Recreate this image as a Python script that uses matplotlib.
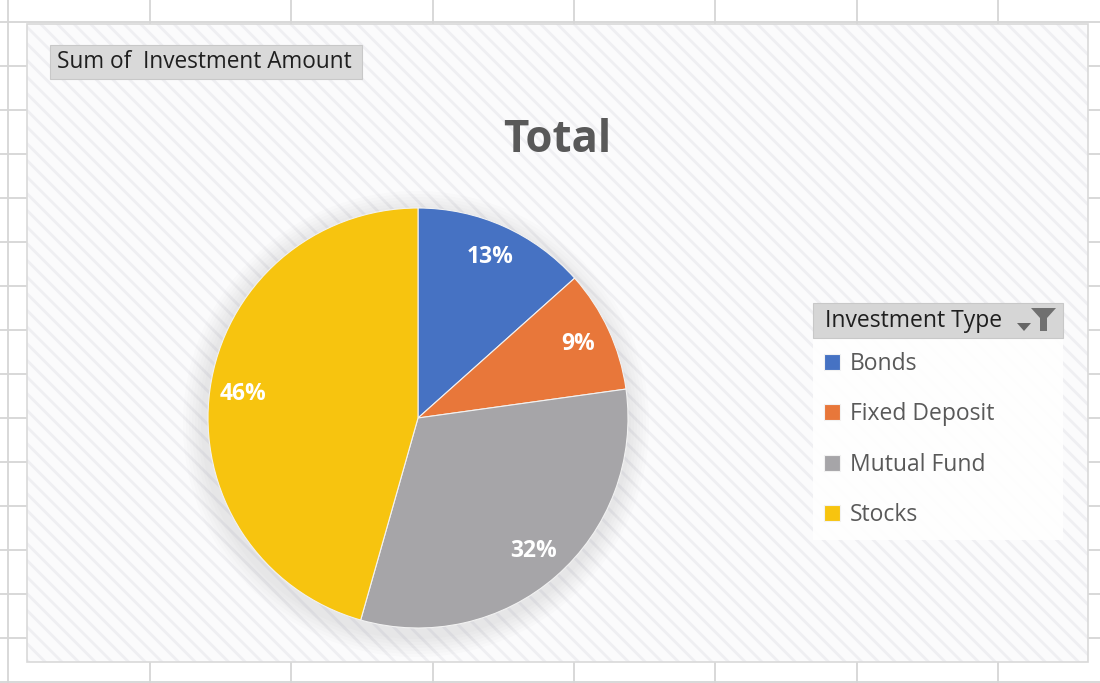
import matplotlib
matplotlib.use("Agg")
import matplotlib.pyplot as plt
from matplotlib.patches import Rectangle, Polygon, Circle

plt.rcParams['font.family'] = ['Open Sans', 'DejaVu Sans']
plt.rcParams['hatch.linewidth'] = 2.0

# ---- данные ----
categories = ['Bonds', 'Fixed Deposit', 'Mutual Fund', 'Stocks']
amounts = [13400, 9400, 31600, 45600]
colors = ['#4672c3', '#e8773a', '#a6a5a8', '#f7c40f']
field_name = 'Sum of  Investment Amount'
legend_title = 'Investment Type'
chart_title = 'Total'

W, H = 1100, 683
fig = plt.figure(figsize=(W / 100, H / 100), dpi=100)

# фон: сетка листа Excel в пикселях
bg = fig.add_axes([0, 0, 1, 1])
bg.set_xlim(0, W)
bg.set_ylim(H, 0)
bg.axis('off')
for x in [8, 150, 291, 433, 574, 715, 857, 998]:
    bg.axvline(x, color='#d6d6d6', lw=1.3, zorder=0.5)
for y in range(22, H, 44):
    bg.axhline(y, color='#d6d6d6', lw=1.3, zorder=0.5)

# область диаграммы со штриховкой
bg.add_patch(Rectangle((27, 24), 1061, 638, facecolor='#fbfbfc',
                       edgecolor='#efeff2', hatch='\\\\', lw=0, zorder=1))
bg.add_patch(Rectangle((27, 24), 1061, 638, facecolor='none',
                       edgecolor='#d9d9d9', lw=1.2, zorder=1.1))

# кнопка поля значений
bg.add_patch(Rectangle((50, 45), 312, 34, facecolor='#d9d9d9',
                       edgecolor='#c8c8c8', lw=0.8, zorder=2))
bg.text(57, 62, field_name, ha='left', va='center', fontsize=16.3,
        color='#1f1f1f', zorder=3)

# заголовок
bg.text(557, 141, chart_title, ha='center', va='center', fontsize=31.5,
        fontweight='bold', color='#595959', zorder=3)

# мягкая тень вокруг круга
for k in range(7):
    bg.add_patch(Circle((416, 424), 212 + 3 * (7 - k), facecolor='#8a8a90',
                        edgecolor='none', alpha=0.022, zorder=2))

# круговая диаграмма
cx, cy, r = 418, 418, 210
ax = fig.add_axes([(cx - r) / W, (H - cy - r) / H, 2 * r / W, 2 * r / H])
wedges, texts, autotexts = ax.pie(
    amounts, colors=colors, startangle=90, counterclock=False,
    autopct='%.0f%%', pctdistance=0.84,
    wedgeprops=dict(edgecolor='#f2f2f2', linewidth=0.8),
    textprops=dict(color='white', fontsize=16.5, fontweight='bold'))
ax.set_xlim(-1, 1)
ax.set_ylim(-1, 1)
ax.set_aspect('equal')

# легенда
bg.add_patch(Rectangle((813, 338), 250, 202, facecolor='white',
                       edgecolor='none', alpha=0.9, zorder=2))
bg.add_patch(Rectangle((813, 303), 250, 35, facecolor='#d6d6d6',
                       edgecolor='#c8c8c8', lw=0.8, zorder=2))
bg.text(825, 321, legend_title, ha='left', va='center', fontsize=16.5,
        color='#1f1f1f', zorder=3)
bg.add_patch(Polygon([(1017, 323), (1031, 323), (1024, 331)],
                     closed=True, facecolor='#666666', edgecolor='none',
                     zorder=3))
bg.add_patch(Polygon([(1031, 308), (1056, 308), (1047, 318), (1047, 331),
                      (1040, 331), (1040, 318)],
                     closed=True, facecolor='#707070', edgecolor='none',
                     zorder=3))

leg = fig.legend(wedges, categories, loc='upper left',
                 bbox_to_anchor=(808 / W, 1 - 336 / H),
                 bbox_transform=fig.transFigure, frameon=False,
                 fontsize=16.5, handlelength=0.68, handleheight=0.68,
                 handletextpad=0.45, labelspacing=1.15, borderpad=0.2)
for t in leg.get_texts():
    t.set_color('#595959')

fig.savefig('out.png', dpi=100)
